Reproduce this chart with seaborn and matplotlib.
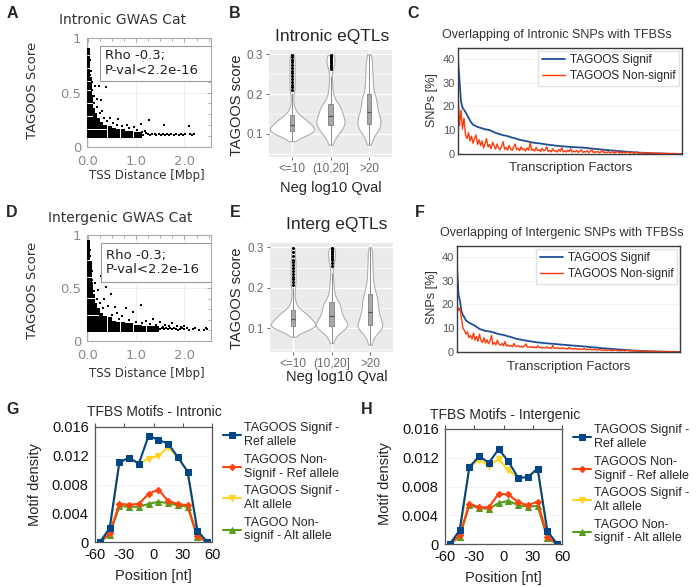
import matplotlib
matplotlib.use("Agg")
import matplotlib.pyplot as plt
from matplotlib.patches import Rectangle
from matplotlib.ticker import MultipleLocator
import seaborn as sns
import pandas as pd
import numpy as np

sns.set_style("white")
plt.rcParams['font.family'] = ['Liberation Sans', 'DejaVu Sans']
plt.rcParams['axes.unicode_minus'] = False

# ---------------- data ----------------
# A: intronic GWAS catalog SNPs (TSS distance in Mbp, TAGOOS score)
# dense core (heavily overlapping points) and sparse points
gwas_intronic_core = [
    (0.01, 0.10), (0.01, 0.14), (0.01, 0.18), (0.01, 0.22), (0.01, 0.26), (0.01, 0.30), (0.01, 0.34),
    (0.01, 0.38), (0.01, 0.42), (0.01, 0.46), (0.01, 0.50), (0.01, 0.54), (0.01, 0.58), (0.01, 0.62),
    (0.01, 0.66), (0.01, 0.70), (0.01, 0.74), (0.01, 0.78), (0.01, 0.82), (0.01, 0.86), (0.01, 0.89),
    (0.035, 0.10), (0.035, 0.14), (0.035, 0.18), (0.035, 0.22), (0.035, 0.26), (0.035, 0.30),
    (0.035, 0.34), (0.035, 0.38), (0.035, 0.42), (0.035, 0.46), (0.035, 0.50), (0.035, 0.54),
    (0.035, 0.58), (0.035, 0.62),
    (0.065, 0.10), (0.065, 0.14), (0.065, 0.18), (0.065, 0.22), (0.065, 0.26), (0.065, 0.30),
    (0.065, 0.34), (0.065, 0.38), (0.065, 0.42), (0.065, 0.46),
    (0.10, 0.10), (0.10, 0.14), (0.10, 0.18), (0.10, 0.22), (0.10, 0.26), (0.10, 0.30), (0.10, 0.34),
    (0.15, 0.10), (0.15, 0.14), (0.15, 0.18), (0.15, 0.22), (0.15, 0.26), (0.15, 0.29),
    (0.21, 0.10), (0.21, 0.14), (0.21, 0.18), (0.21, 0.22), (0.21, 0.25),
    (0.28, 0.10), (0.28, 0.14), (0.28, 0.18), (0.28, 0.21),
    (0.36, 0.10), (0.36, 0.14), (0.36, 0.18), (0.45, 0.10), (0.45, 0.14), (0.45, 0.17),
    (0.54, 0.10), (0.54, 0.13), (0.54, 0.16), (0.63, 0.10), (0.63, 0.13), (0.63, 0.15),
    (0.72, 0.10), (0.72, 0.13), (0.72, 0.15), (0.81, 0.10), (0.81, 0.13), (0.90, 0.10), (0.90, 0.13),
    (0.99, 0.10), (0.99, 0.12), (1.08, 0.10), (1.08, 0.12),
]
gwas_intronic_sparse = [
    (1.15, 0.11), (1.20, 0.13), (1.24, 0.12), (1.29, 0.11), (1.33, 0.12), (1.38, 0.12), (1.42, 0.11),
    (1.47, 0.12), (1.51, 0.11), (1.55, 0.12), (1.60, 0.11), (1.64, 0.12), (1.68, 0.11), (1.73, 0.12),
    (1.78, 0.11), (1.83, 0.12), (1.88, 0.11), (1.93, 0.12), (1.97, 0.11), (2.02, 0.12),
    (2.12, 0.12), (2.15, 0.11), (2.19, 0.115), (1.12, 0.14), (1.18, 0.15),
    (0.37, 0.55), (0.23, 0.56), (0.27, 0.43), (0.18, 0.44), (0.12, 0.47), (0.62, 0.26),
    (1.26, 0.25), (1.09, 0.21), (1.57, 0.20), (2.10, 0.19), (0.45, 0.27), (0.30, 0.33),
    (0.80, 0.20), (0.95, 0.18), (0.14, 0.56), (0.09, 0.60), (0.06, 0.70), (0.04, 0.80),
    (0.40, 0.24), (0.52, 0.22), (0.70, 0.19), (0.33, 0.27), (0.25, 0.31), (0.18, 0.37),
    (0.12, 0.40), (0.08, 0.52), (0.05, 0.66), (0.86, 0.17), (1.02, 0.16), (0.60, 0.20),
]

# D: intergenic GWAS catalog SNPs
gwas_intergenic_core = [
    (0.01, 0.10), (0.01, 0.14), (0.01, 0.18), (0.01, 0.22), (0.01, 0.26), (0.01, 0.30), (0.01, 0.34),
    (0.01, 0.38), (0.01, 0.42), (0.01, 0.46), (0.01, 0.50), (0.01, 0.54), (0.01, 0.58), (0.01, 0.62),
    (0.01, 0.66), (0.01, 0.70), (0.01, 0.74), (0.01, 0.78), (0.01, 0.82), (0.01, 0.86), (0.01, 0.90),
    (0.01, 0.93),
    (0.035, 0.10), (0.035, 0.14), (0.035, 0.18), (0.035, 0.22), (0.035, 0.26), (0.035, 0.30),
    (0.035, 0.34), (0.035, 0.38), (0.035, 0.42), (0.035, 0.46), (0.035, 0.50), (0.035, 0.54),
    (0.035, 0.58), (0.035, 0.62), (0.035, 0.66), (0.035, 0.70), (0.035, 0.74),
    (0.065, 0.10), (0.065, 0.14), (0.065, 0.18), (0.065, 0.22), (0.065, 0.26), (0.065, 0.30),
    (0.065, 0.34), (0.065, 0.38), (0.065, 0.42), (0.065, 0.46), (0.065, 0.50), (0.065, 0.54),
    (0.10, 0.10), (0.10, 0.14), (0.10, 0.18), (0.10, 0.22), (0.10, 0.26), (0.10, 0.30), (0.10, 0.34),
    (0.10, 0.38), (0.10, 0.42),
    (0.15, 0.10), (0.15, 0.14), (0.15, 0.18), (0.15, 0.22), (0.15, 0.26), (0.15, 0.30), (0.15, 0.34),
    (0.21, 0.10), (0.21, 0.14), (0.21, 0.18), (0.21, 0.22), (0.21, 0.26), (0.21, 0.29),
    (0.28, 0.10), (0.28, 0.14), (0.28, 0.18), (0.28, 0.22), (0.28, 0.25),
    (0.36, 0.10), (0.36, 0.14), (0.36, 0.18), (0.36, 0.22),
    (0.45, 0.10), (0.45, 0.14), (0.45, 0.18), (0.45, 0.21), (0.54, 0.10), (0.54, 0.14), (0.54, 0.17),
    (0.63, 0.10), (0.63, 0.13), (0.63, 0.16), (0.72, 0.10), (0.72, 0.13), (0.72, 0.16),
    (0.81, 0.10), (0.81, 0.13), (0.81, 0.15), (0.90, 0.10), (0.90, 0.13), (0.90, 0.15),
    (0.99, 0.10), (0.99, 0.13), (1.08, 0.10), (1.08, 0.13), (1.17, 0.10), (1.17, 0.12),
    (1.26, 0.10), (1.26, 0.12), (1.35, 0.10), (1.35, 0.12), (1.44, 0.10), (1.44, 0.12),
]
gwas_intergenic_sparse = [
    (1.50, 0.11), (1.54, 0.12), (1.58, 0.11), (1.62, 0.12), (1.66, 0.11), (1.70, 0.12), (1.74, 0.11),
    (1.78, 0.12), (1.82, 0.11), (1.86, 0.10), (1.90, 0.11), (1.95, 0.12), (2.00, 0.11), (2.05, 0.12),
    (2.10, 0.10), (2.18, 0.11), (2.30, 0.10), (2.40, 0.10), (2.44, 0.12), (2.47, 0.11),
    (0.47, 0.44), (0.56, 0.32), (0.37, 0.51), (0.27, 0.61), (0.78, 0.31), (0.93, 0.27), (1.09, 0.34),
    (1.34, 0.21), (1.50, 0.18), (1.75, 0.17), (2.00, 0.14), (0.20, 0.48), (0.14, 0.55), (0.09, 0.66),
    (0.06, 0.72), (0.33, 0.40), (0.60, 0.26), (0.70, 0.24), (1.20, 0.19), (0.42, 0.33),
    (0.25, 0.36), (0.31, 0.31), (0.50, 0.25), (0.65, 0.21), (0.85, 0.20), (1.00, 0.18), (1.13, 0.17),
    (1.28, 0.16), (1.40, 0.15), (1.60, 0.15), (1.85, 0.14), (0.18, 0.40), (0.12, 0.47), (0.08, 0.58),
    (0.05, 0.80), (0.04, 0.86), (1.55, 0.13), (1.68, 0.14), (1.92, 0.13), (2.22, 0.12),
]

# B / E: eQTL TAGOOS scores by -log10 q-value bin
qval_bins = ['<=10', '(10,20]', '>20']
eqtl_intronic_low = [
    0.082, 0.090, 0.095, 0.098, 0.100, 0.101, 0.102, 0.102, 0.103, 0.103, 0.104, 0.104, 0.104, 0.105,
    0.105, 0.105, 0.106, 0.106, 0.107, 0.108, 0.108, 0.108, 0.109, 0.109, 0.110, 0.110, 0.111, 0.111,
    0.112, 0.113, 0.114, 0.115, 0.116, 0.117, 0.118, 0.119, 0.120, 0.121, 0.122, 0.123, 0.124, 0.125,
    0.126, 0.127, 0.128, 0.129, 0.130, 0.131, 0.132, 0.133, 0.134, 0.135, 0.136, 0.137, 0.138, 0.140,
    0.141, 0.142, 0.144, 0.146, 0.150, 0.156, 0.163, 0.172, 0.185, 0.203, 0.210, 0.217, 0.224, 0.231,
    0.238, 0.245, 0.252, 0.259, 0.266, 0.273, 0.280, 0.287, 0.293, 0.299]
eqtl_intronic_mid = [
    0.073, 0.080, 0.086, 0.090, 0.094, 0.097, 0.100, 0.102, 0.104, 0.106, 0.108, 0.109, 0.110, 0.111,
    0.113, 0.114, 0.116, 0.117, 0.119, 0.121, 0.122, 0.123, 0.124, 0.125, 0.126, 0.127, 0.128, 0.129,
    0.131, 0.132, 0.133, 0.134, 0.135, 0.137, 0.138, 0.139, 0.140, 0.141, 0.143, 0.144, 0.145, 0.147,
    0.148, 0.150, 0.151, 0.153, 0.155, 0.156, 0.158, 0.160, 0.161, 0.163, 0.165, 0.166, 0.168, 0.169,
    0.171, 0.172, 0.174, 0.175, 0.178, 0.182, 0.186, 0.191, 0.197, 0.204, 0.212, 0.221, 0.232, 0.245,
    0.262, 0.268, 0.273, 0.278, 0.282, 0.286, 0.290, 0.293, 0.296, 0.299]
eqtl_intronic_high = [
    0.073, 0.082, 0.090, 0.096, 0.100, 0.104, 0.107, 0.109, 0.111, 0.113, 0.115, 0.117, 0.119, 0.121,
    0.123, 0.125, 0.127, 0.129, 0.131, 0.133, 0.135, 0.137, 0.139, 0.141, 0.143, 0.145, 0.147, 0.149,
    0.151, 0.154, 0.157, 0.160, 0.163, 0.166, 0.169, 0.172, 0.175, 0.178, 0.181, 0.184, 0.187, 0.190,
    0.193, 0.196, 0.200, 0.205, 0.211, 0.217, 0.223, 0.229, 0.235, 0.241, 0.247, 0.254, 0.261, 0.268,
    0.275, 0.283, 0.291, 0.300]
eqtl_interg_low = [
    0.080, 0.088, 0.094, 0.097, 0.099, 0.100, 0.101, 0.101, 0.102, 0.102, 0.103, 0.103, 0.103, 0.104,
    0.104, 0.104, 0.105, 0.105, 0.105, 0.106, 0.106, 0.107, 0.107, 0.108, 0.108, 0.109, 0.110, 0.110,
    0.111, 0.112, 0.113, 0.114, 0.115, 0.116, 0.117, 0.118, 0.119, 0.120, 0.121, 0.122, 0.123, 0.124,
    0.125, 0.126, 0.127, 0.128, 0.129, 0.130, 0.131, 0.132, 0.133, 0.134, 0.135, 0.136, 0.137, 0.138,
    0.140, 0.141, 0.142, 0.144, 0.148, 0.153, 0.159, 0.166, 0.175, 0.186, 0.200, 0.207, 0.214, 0.221,
    0.228, 0.235, 0.242, 0.249, 0.256, 0.263, 0.270, 0.280, 0.290, 0.299]
eqtl_interg_mid = [
    0.064, 0.072, 0.079, 0.084, 0.088, 0.091, 0.094, 0.096, 0.098, 0.099, 0.100, 0.101, 0.102, 0.103,
    0.103, 0.104, 0.104, 0.105, 0.105, 0.106, 0.107, 0.108, 0.109, 0.110, 0.111, 0.112, 0.113, 0.114,
    0.115, 0.116, 0.117, 0.118, 0.120, 0.121, 0.122, 0.124, 0.125, 0.127, 0.128, 0.130, 0.132, 0.134,
    0.135, 0.137, 0.139, 0.141, 0.143, 0.145, 0.147, 0.148, 0.150, 0.152, 0.154, 0.156, 0.157, 0.159,
    0.161, 0.162, 0.164, 0.165, 0.169, 0.174, 0.179, 0.185, 0.191, 0.198, 0.206, 0.215, 0.225, 0.237,
    0.255, 0.262, 0.268, 0.274, 0.279, 0.284, 0.288, 0.292, 0.296, 0.299]
eqtl_interg_high = [
    0.060, 0.070, 0.078, 0.085, 0.090, 0.094, 0.097, 0.099, 0.100, 0.101, 0.102, 0.103, 0.104, 0.105,
    0.106, 0.108, 0.110, 0.112, 0.114, 0.116, 0.119, 0.121, 0.124, 0.126, 0.128, 0.130, 0.132, 0.134,
    0.137, 0.139, 0.142, 0.145, 0.148, 0.151, 0.154, 0.157, 0.160, 0.163, 0.166, 0.169, 0.172, 0.175,
    0.178, 0.181, 0.184, 0.188, 0.193, 0.198, 0.204, 0.210, 0.217, 0.224, 0.232, 0.240, 0.249, 0.258,
    0.268, 0.278, 0.289, 0.300]

# C / F: % of SNPs overlapping each TF's binding sites (TFs ranked)
tf_intronic_signif = [
    40.0, 31.0, 22.0, 19.5, 18.6, 17.6, 16.4, 15.2, 14.1, 13.1,
    12.3, 12.0, 11.7, 11.4, 11.2, 11.0, 10.8, 10.6, 10.4, 10.3,
    10.2, 10.0, 9.8, 9.5, 9.2, 8.9, 8.7, 8.5, 8.3, 8.1,
    7.9, 7.8, 7.7, 7.5, 7.3, 7.1, 6.9, 6.8, 6.6, 6.4,
    6.2, 6.0, 5.8, 5.7, 5.6, 5.5, 5.3, 5.2, 5.0, 4.9,
    4.8, 4.7, 4.6, 4.5, 4.5, 4.4, 4.3, 4.2, 4.1, 4.0,
    3.9, 3.8, 3.75, 3.7, 3.6, 3.5, 3.45, 3.4, 3.3, 3.25,
    3.2, 3.15, 3.1, 3.05, 3.0, 2.95, 2.9, 2.88, 2.85, 2.8,
    2.78, 2.75, 2.72, 2.7, 2.6, 2.55, 2.5, 2.4, 2.35, 2.3,
    2.2, 2.15, 2.1, 2.05, 2.0, 1.9, 1.85, 1.8, 1.7, 1.65,
    1.6, 1.55, 1.5, 1.45, 1.4, 1.38, 1.3, 1.25, 1.2, 1.1,
    1.05, 1.0, 0.95, 0.9, 0.85, 0.8, 0.78, 0.75, 0.7, 0.65,
    0.6, 0.55, 0.5, 0.48, 0.45, 0.4, 0.37, 0.35, 0.32, 0.3,
    0.28, 0.26, 0.24, 0.22, 0.2, 0.18, 0.17, 0.15, 0.14, 0.12,
    0.11, 0.1, 0.09, 0.08, 0.07, 0.06, 0.05, 0.04, 0.03, 0.02]
tf_intronic_nonsignif = [
    25.0, 12.0, 18.5, 10.5, 15.0, 8.0, 6.5, 9.0, 5.5, 7.5,
    4.5, 6.5, 8.0, 4.0, 6.0, 3.5, 5.5, 2.5, 4.5, 6.5,
    3.0, 4.0, 2.2, 5.0, 3.5, 2.0, 4.2, 2.5, 1.8, 3.2,
    5.2, 2.0, 2.8, 1.6, 3.6, 2.2, 1.5, 2.8, 4.2, 1.8,
    2.4, 1.4, 3.0, 1.8, 2.2, 1.3, 2.6, 1.6, 4.6, 1.5,
    2.0, 1.2, 2.8, 1.4, 1.8, 1.0, 2.4, 1.3, 1.6, 3.0,
    1.1, 1.5, 0.9, 2.2, 1.2, 1.4, 0.8, 1.9, 1.1, 2.6,
    0.9, 1.3, 0.8, 1.6, 1.0, 2.2, 0.8, 1.2, 0.9, 1.5,
    0.7, 1.1, 1.8, 0.7, 1.0, 0.8, 1.4, 0.6, 1.0, 2.0,
    0.6, 0.9, 0.7, 1.2, 0.5, 0.8, 1.5, 0.6, 0.8, 0.5,
    1.1, 0.5, 0.7, 0.9, 0.4, 0.6, 1.3, 0.5, 0.7, 0.4,
    0.8, 0.5, 0.6, 1.0, 0.4, 0.5, 0.7, 0.3, 0.6, 0.9,
    0.3, 0.5, 0.4, 0.7, 0.3, 0.4, 0.6, 0.3, 0.4, 0.3,
    0.5, 0.2, 0.3, 0.4, 0.2, 0.3, 0.2, 0.35, 0.15, 0.25,
    0.2, 0.1, 0.2, 0.15, 0.1, 0.12, 0.08, 0.1, 0.05, 0.03]
tf_interg_signif = [
    36.0, 24.0, 21.5, 17.0, 15.5, 14.5, 13.2, 12.8, 12.3, 12.0,
    11.7, 11.4, 11.0, 10.6, 10.2, 9.7, 9.5, 9.3, 9.1, 8.9,
    8.8, 8.7, 8.6, 8.5, 8.3, 8.1, 7.9, 7.7, 7.5, 7.4,
    7.3, 7.2, 7.0, 6.8, 6.6, 6.5, 6.3, 6.1, 5.9, 5.7,
    5.5, 5.4, 5.3, 5.2, 5.0, 4.9, 4.8, 4.7, 4.6, 4.5,
    4.4, 4.3, 4.2, 4.1, 4.0, 4.0, 3.9, 3.85, 3.8, 3.7,
    3.65, 3.6, 3.55, 3.5, 3.45, 3.4, 3.35, 3.3, 3.2, 3.15,
    3.1, 3.05, 3.0, 2.95, 2.9, 2.85, 2.8, 2.75, 2.7, 2.65,
    2.6, 2.55, 2.5, 2.45, 2.4, 2.35, 2.28, 2.2, 2.1, 2.05,
    2.0, 1.95, 1.9, 1.85, 1.8, 1.7, 1.65, 1.6, 1.55, 1.5,
    1.45, 1.4, 1.35, 1.3, 1.25, 1.2, 1.15, 1.1, 1.05, 1.0,
    0.95, 0.9, 0.85, 0.8, 0.75, 0.72, 0.68, 0.64, 0.6, 0.56,
    0.52, 0.48, 0.45, 0.42, 0.39, 0.36, 0.33, 0.3, 0.28, 0.26,
    0.24, 0.22, 0.2, 0.18, 0.17, 0.16, 0.15, 0.14, 0.13, 0.12,
    0.1, 0.09, 0.08, 0.07, 0.06, 0.05, 0.04, 0.03, 0.02, 0.01]
tf_interg_nonsignif = [
    20.0, 17.5, 18.5, 14.0, 10.0, 9.0, 7.5, 8.5, 6.0, 7.0,
    5.5, 8.0, 5.0, 6.5, 4.5, 7.5, 5.0, 4.0, 6.0, 3.8,
    5.2, 3.5, 4.5, 7.0, 3.2, 4.0, 3.0, 5.0, 3.4, 2.8,
    3.6, 2.6, 4.4, 2.5, 3.0, 2.4, 2.8, 2.2, 3.6, 2.5,
    2.3, 2.8, 2.1, 2.4, 2.0, 2.6, 3.4, 2.0, 2.2, 1.9,
    2.3, 1.8, 2.1, 1.7, 2.6, 1.8, 2.0, 1.6, 1.9, 1.7,
    2.2, 1.6, 1.8, 1.5, 2.7, 1.6, 1.5, 1.9, 1.4, 1.6,
    1.4, 1.8, 1.3, 1.5, 1.2, 2.0, 1.3, 1.4, 1.1, 1.6,
    1.2, 1.1, 1.4, 1.0, 1.2, 1.5, 1.0, 1.1, 0.9, 1.3,
    0.9, 1.0, 1.2, 0.8, 0.9, 1.1, 0.8, 0.9, 0.7, 1.0,
    0.7, 0.8, 0.9, 0.6, 0.8, 0.7, 0.9, 0.6, 0.7, 0.5,
    0.6, 0.7, 0.5, 0.6, 0.8, 0.5, 0.6, 0.4, 0.5, 0.6,
    0.4, 0.5, 0.35, 0.45, 0.4, 0.3, 0.4, 0.3, 0.35, 0.25,
    0.3, 0.25, 0.3, 0.2, 0.25, 0.2, 0.22, 0.18, 0.2, 0.15,
    0.14, 0.12, 0.1, 0.12, 0.08, 0.07, 0.06, 0.05, 0.04, 0.02]

# G / H: TFBS motif density around SNPs
positions = [-55, -45, -35, -25, -15, -5, 5, 15, 25, 35, 45, 55]
motif_intronic_sig_ref = [0, 0.0019, 0.0111, 0.0117, 0.0109, 0.0148, 0.0142, 0.0137, 0.0118, 0.0098, 0.0016, 0]
motif_intronic_non_ref = [0, 0.0012, 0.0053, 0.0052, 0.0053, 0.0067, 0.0073, 0.0057, 0.0053, 0.0051, 0.0008, 0]
motif_intronic_sig_alt = [0, 0.0013, 0.0111, 0.0117, 0.0109, 0.0116, 0.0120, 0.0132, 0.0118, 0.0098, 0.0012, 0]
motif_intronic_non_alt = [0, 0.0010, 0.0050, 0.0049, 0.0049, 0.0053, 0.0056, 0.0054, 0.0051, 0.0049, 0.0007, 0]
motif_interg_sig_ref = [0, 0.0019, 0.0107, 0.0122, 0.0113, 0.0132, 0.0115, 0.0092, 0.0093, 0.0105, 0.0018, 0]
motif_interg_non_ref = [0, 0.0012, 0.0056, 0.0051, 0.0051, 0.0070, 0.0069, 0.0058, 0.0054, 0.0059, 0.0010, 0]
motif_interg_sig_alt = [0, 0.0012, 0.0107, 0.0117, 0.0109, 0.0118, 0.0103, 0.0092, 0.0093, 0.0105, 0.0012, 0]
motif_interg_non_alt = [0, 0.0010, 0.0054, 0.0050, 0.0049, 0.0057, 0.0060, 0.0054, 0.0052, 0.0053, 0.0008, 0]

motif_labels = ['TAGOOS Signif -\nRef allele', 'TAGOOS Non-\nSignif - Ref allele',
                'TAGOOS Signif -\nAlt allele', 'TAGOO Non-\nsignif - Alt allele']

# ---------------- figure ----------------
W, H = 699, 587
fig = plt.figure(figsize=(W / 100, H / 100), dpi=100)


def add_ax(x0, y0, x1, y1):
    return fig.add_axes([x0 / W, 1 - y1 / H, (x1 - x0) / W, (y1 - y0) / H])


def ftext(x, y, s, **kw):
    fig.text(x / W, 1 - y / H, s, ha=kw.pop('ha', 'center'), va=kw.pop('va', 'center'), **kw)


def scatter_panel(ax, core, sparse, box, tx):
    core_df = pd.DataFrame(core, columns=['dist', 'score'])
    sparse_df = pd.DataFrame(sparse, columns=['dist', 'score'])
    sns.scatterplot(data=core_df, x='dist', y='score', color='black', marker='s', s=9,
                    linewidth=0, ax=ax, zorder=3)
    sns.scatterplot(data=sparse_df, x='dist', y='score', color='black', marker='s', s=2.5,
                    linewidth=0, ax=ax, zorder=3)
    ax.set_xlim(-0.02, 2.55)
    ax.set_ylim(0, 1)
    ax.set_xticks([0, 1, 2])
    ax.set_xticklabels(['0.0', '1.0', '2.0'])
    ax.set_yticks([0, 0.5, 1])
    ax.set_yticklabels(['0', '0.5', '1'])
    ax.xaxis.set_minor_locator(MultipleLocator(0.25))
    ax.yaxis.set_minor_locator(MultipleLocator(0.1))
    ax.tick_params(which='both', direction='in', top=True, right=True, color='#9a9a9a',
                   labelcolor='#8a8a8a', labelsize=9.5, length=3, width=0.6, pad=2)
    ax.tick_params(axis='x', pad=6)
    ax.tick_params(axis='y', pad=4)
    ax.tick_params(which='minor', length=2)
    for lbl in ax.get_xticklabels() + ax.get_yticklabels():
        lbl.set_family('DejaVu Sans')
    for sp in ax.spines.values():
        sp.set_color('#aaaaaa')
        sp.set_linewidth(0.8)
    ax.grid(True, color='#ececec', lw=0.6)
    ax.set_axisbelow(True)
    ax.set_xlabel('')
    ax.set_ylabel('')
    ax.add_patch(Rectangle((box[0], box[1]), 1 - box[0], box[2] - box[1], transform=ax.transAxes,
                           facecolor='white', edgecolor='#9a9a9a', lw=0.8, zorder=4))
    ax.text(tx[0], tx[1], 'Rho -0.3;\nP-val<2.2e-16', transform=ax.transAxes, ha='left', va='center',
            fontsize=9.5, family='DejaVu Sans', color='#222222', linespacing=1.15, zorder=5)


def violin_panel(ax, groups):
    rows = []
    for cat, vals in zip(qval_bins, groups):
        rows += [(cat, v) for v in vals]
    df = pd.DataFrame(rows, columns=['bin', 'score'])
    ax.set_facecolor('#ebebeb')
    sns.violinplot(data=df, x='bin', y='score', order=qval_bins, color='white', linecolor='#b0b0b0',
                   linewidth=0.8, cut=0, bw_adjust=0.5, inner=None, density_norm='area',
                   width=1.15, saturation=1, ax=ax, zorder=2)
    sns.boxplot(data=df, x='bin', y='score', order=qval_bins, width=0.11, color='#a8a8a8',
                linecolor='#8a8a8a', linewidth=0.7, saturation=1, fliersize=1.2,
                flierprops=dict(marker='o', markerfacecolor='black', markeredgecolor='black'),
                medianprops=dict(color='#555555', linewidth=0.9),
                capprops=dict(visible=False), ax=ax, zorder=3)
    ax.set_ylim(0.042, 0.311)
    ax.set_xlim(-0.6, 2.6)
    ax.set_yticks([0.1, 0.2, 0.3])
    ax.set_yticklabels(['0.1', '0.2', '0.3'])
    ax.yaxis.set_minor_locator(MultipleLocator(0.05))
    ax.grid(True, which='major', color='white', lw=1.0)
    ax.grid(True, which='minor', axis='y', color='white', lw=0.5)
    ax.set_axisbelow(True)
    for sp in ax.spines.values():
        sp.set_visible(False)
    ax.tick_params(which='major', length=2.5, width=0.6, color='#4d4d4d', labelcolor='#6b6b6b',
                   labelsize=8.5, pad=2, left=True, bottom=True)
    ax.tick_params(which='minor', length=0)
    ax.set_xlabel('')
    ax.set_ylabel('')


def tf_panel(ax, sig, non):
    ax.set_facecolor('white')
    sns.lineplot(x=np.arange(len(sig)), y=sig, color='#1f4e96', lw=1.3, label='TAGOOS Signif', ax=ax)
    sns.lineplot(x=np.arange(len(non)), y=non, color='#ff3b0a', lw=1.0, label='TAGOOS Non-signif', ax=ax)
    ax.set_xlim(0, len(sig) - 1)
    ax.set_ylim(0, 44.6)
    ax.set_yticks([0, 10, 20, 30, 40])
    ax.set_xticks([])
    ax.grid(True, axis='y', color='#f0f0f0', lw=0.6)
    ax.set_axisbelow(True)
    for sp in ax.spines.values():
        sp.set_color('#3a3a3a')
        sp.set_linewidth(1.0)
    ax.tick_params(axis='y', labelsize=8, labelcolor='#555555', length=0, pad=2)
    ax.legend(loc='upper right', fontsize=8.5, frameon=True, fancybox=False, edgecolor='#dddddd',
              handlelength=2.0, handletextpad=0.4, borderaxespad=0.25, borderpad=0.3, labelspacing=0.3)
    ax.set_xlabel('')
    ax.set_ylabel('')


def motif_panel(ax, series):
    styles = [('#004586', 's', 5.0), ('#ff420e', 'D', 3.2), ('#ffd320', 'v', 5.0), ('#579d1c', '^', 5.0)]
    for idx in [3, 2, 1, 0]:
        col, mk, ms = styles[idx]
        sns.lineplot(x=positions, y=series[idx], color=col, marker=mk, markersize=ms,
                     markeredgecolor=col, markerfacecolor=col, lw=1.5, ax=ax, label=motif_labels[idx])
    hs, ls = ax.get_legend_handles_labels()
    order = [ls.index(l) for l in motif_labels]
    ax.legend([hs[i] for i in order], [ls[i] for i in order], loc='upper left',
              bbox_to_anchor=(1.09, 1.04), frameon=False, fontsize=9, handlelength=1.5,
              handletextpad=0.25, labelspacing=0.45, borderaxespad=0, borderpad=0)
    ax.set_xlim(-60, 60)
    ax.set_ylim(0, 0.016)
    ax.set_xticks([-60, -30, 0, 30, 60])
    ax.set_yticks([0, 0.004, 0.008, 0.012, 0.016])
    ax.set_yticklabels(['0', '0.004', '0.008', '0.012', '0.016'])
    ax.grid(True, axis='y', color='#f2f2f2', lw=0.6)
    ax.set_axisbelow(True)
    for sp in ax.spines.values():
        sp.set_color('#555555')
        sp.set_linewidth(0.9)
    ax.tick_params(which='both', direction='out', top=True, length=3, width=0.8, color='#555555',
                   labelsize=10.5, labelcolor='#111111', pad=1.5)
    ax.tick_params(axis='x', labeltop=False)
    ax.set_xlabel('')
    ax.set_ylabel('')


# A
ax_a = add_ax(87, 38, 211, 147)
scatter_panel(ax_a, gwas_intronic_core, gwas_intronic_sparse, (0.105, 0.61, 0.93), (0.145, 0.77))
# D
ax_d = add_ax(87, 235, 211, 341)
scatter_panel(ax_d, gwas_intergenic_core, gwas_intergenic_sparse, (0.11, 0.56, 0.925), (0.152, 0.74))
# B, E
ax_b = add_ax(269, 50, 392, 157)
violin_panel(ax_b, [eqtl_intronic_low, eqtl_intronic_mid, eqtl_intronic_high])
ax_e = add_ax(270, 243, 393, 352)
violin_panel(ax_e, [eqtl_interg_low, eqtl_interg_mid, eqtl_interg_high])
# C, F
ax_c = add_ax(458, 48, 682, 154)
tf_panel(ax_c, tf_intronic_signif, tf_intronic_nonsignif)
ax_f = add_ax(457, 246, 680, 352)
tf_panel(ax_f, tf_interg_signif, tf_interg_nonsignif)
# G, H
ax_g = add_ax(95, 427, 212, 542)
motif_panel(ax_g, [motif_intronic_sig_ref, motif_intronic_non_ref, motif_intronic_sig_alt, motif_intronic_non_alt])
ax_h = add_ax(445, 429, 562, 544)
motif_panel(ax_h, [motif_interg_sig_ref, motif_interg_non_ref, motif_interg_sig_alt, motif_interg_non_alt])

# titles and axis labels
dj = dict(family='DejaVu Sans', color='#333333')
ftext(123, 20, 'Intronic GWAS Cat', fontsize=10, **dj)
ftext(120, 218, 'Intergenic GWAS Cat', fontsize=10, **dj)
ftext(33, 90, 'TAGOOS Score', fontsize=9.5, rotation=90, **dj)
ftext(33, 290, 'TAGOOS Score', fontsize=9.5, rotation=90, **dj)
ftext(147, 175, 'TSS Distance [Mbp]', fontsize=8.5, **dj)
ftext(147, 374, 'TSS Distance [Mbp]', fontsize=8.5, **dj)

ftext(332, 37, 'Intronic eQTLs', fontsize=12.5)
ftext(337, 225, 'Interg eQTLs', fontsize=12.5)
ftext(237, 105, 'TAGOOS score', fontsize=10.5, rotation=90)
ftext(237, 298, 'TAGOOS score', fontsize=10.5, rotation=90)
ftext(331, 188, 'Neg log10 Qval', fontsize=10.5)
ftext(337, 377, 'Neg log10 Qval', fontsize=10.5)

ftext(557, 35, 'Overlapping of Intronic SNPs with TFBSs', fontsize=9, color='#333333')
ftext(562, 233, 'Overlapping of Intergenic SNPs with TFBSs', fontsize=9, color='#333333')
ftext(432, 100, 'SNPs [%]', fontsize=9, rotation=90, color='#333333')
ftext(432, 297, 'SNPs [%]', fontsize=9, rotation=90, color='#333333')
ftext(571, 168, 'Transcription Factors', fontsize=9.5, color='#333333')
ftext(569, 367, 'Transcription Factors', fontsize=9.5, color='#333333')

ftext(154, 412, 'TFBS Motifs - Intronic', fontsize=10)
ftext(505, 415, 'TFBS Motifs - Intergenic', fontsize=10)
ftext(35, 485, 'Motif density', fontsize=10.5, rotation=90)
ftext(385, 484, 'Motif density', fontsize=10.5, rotation=90)
ftext(153, 576, 'Position [nt]', fontsize=10.5)
ftext(503, 578, 'Position [nt]', fontsize=10.5)

# panel letters
for letter, x, y in [('A', 12, 13), ('B', 235, 13), ('C', 413, 13), ('D', 12, 212),
                     ('E', 235, 213), ('F', 420, 213), ('G', 13, 410), ('H', 367, 410)]:
    ftext(x, y, letter, fontsize=11.5, fontweight='bold')

fig.savefig('out.png', dpi=100)
